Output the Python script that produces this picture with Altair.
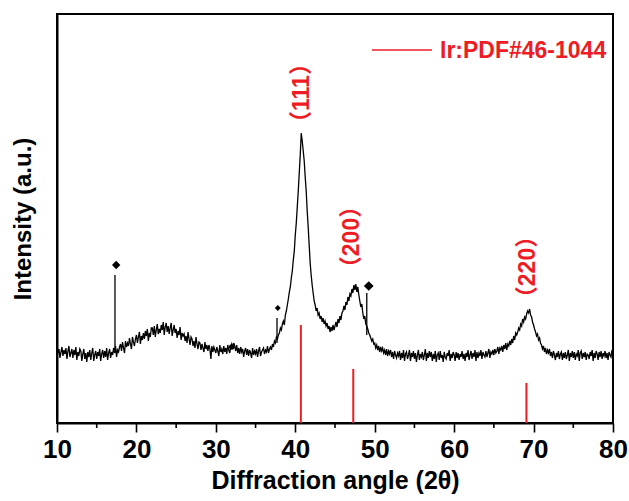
import altair as alt
import pandas as pd

# ---------------- data ----------------
START, STEP = 10.0, 0.125
# intensity (arbitrary units), 8 samples per degree from 10.000 to 80.000
intensity = [
    78, 70, 74, 65, 71, 76, 67, 73,   # 10
    69, 75, 64, 72, 77, 66, 70, 74,   # 11
    65, 73, 68, 76, 63, 71, 67, 74,   # 12
    72, 62, 69, 74, 64, 70, 61, 71,   # 13
    66, 73, 63, 70, 75, 62, 68, 72,   # 14
    64, 71, 67, 74, 62, 69, 73, 65,   # 15
    72, 66, 75, 63, 70, 74, 65, 71,   # 16
    68, 75, 70, 77, 66, 73, 71, 76,   # 17
    79, 72, 81, 75, 70, 82, 76, 80,   # 18
    77, 85, 79, 74, 86, 81, 77, 84,   # 19
    88, 80, 86, 91, 79, 87, 83, 90,   # 20
    84, 92, 87, 94, 82, 90, 86, 95,   # 21
    95, 88, 97, 86, 93, 99, 89, 94,   # 22
    90, 98, 93, 101, 88, 96, 100, 91,  # 23
    97, 89, 95, 100, 87, 93, 98, 90,  # 24
    94, 85, 92, 88, 96, 83, 90, 87,   # 25
    89, 82, 87, 80, 91, 84, 78, 86,   # 26
    84, 77, 82, 75, 86, 79, 74, 81,   # 27
    80, 73, 79, 75, 71, 81, 74, 78,   # 28
    72, 78, 74, 64, 77, 71, 76, 73,   # 29
    70, 76, 72, 67, 78, 71, 74, 69,   # 30
    77, 71, 75, 69, 78, 73, 70, 76,   # 31
    79, 74, 80, 77, 72, 78, 70, 75,   # 32
    69, 76, 71, 74, 66, 72, 75, 68,   # 33
    74, 67, 73, 70, 65, 75, 68, 72,   # 34
    69, 74, 66, 72, 76, 67, 71, 73,   # 35
    75, 69, 73, 71, 77, 70, 74, 76,   # 36
    73, 79, 76, 82, 80, 86, 84, 88,   # 37
    90, 95, 93, 99, 102, 98, 108, 112,   # 38
    118, 124, 131, 136, 145, 152, 163, 172,  # 39
    188, 200, 216, 232, 250, 268, 290, 282,  # 40
    272, 262, 246, 232, 212, 196, 178, 160,  # 41
    148, 138, 130, 122, 118, 112, 115, 108,  # 42
    110, 104, 107, 101, 105, 99, 102, 97,    # 43
    100, 94, 97, 91, 96, 92, 98, 93,         # 44
    97, 101, 96, 104, 100, 107, 103, 110,    # 45
    112, 117, 113, 121, 118, 126, 122, 129,  # 46
    127, 134, 130, 138, 133, 139, 131, 136,  # 47
    128, 122, 116, 119, 110, 104, 107, 99,   # 48
    97, 94, 90, 88, 85, 82, 84, 79,   # 49
    80, 75, 78, 73, 77, 71, 76, 72,   # 50
    75, 70, 73, 68, 74, 67, 72, 69,   # 51
    73, 66, 71, 64, 72, 68, 65, 70,   # 52
    67, 72, 63, 70, 65, 73, 62, 69,   # 53
    71, 64, 68, 73, 62, 70, 66, 72,   # 54
    64, 70, 61, 68, 73, 63, 69, 66,   # 55
    71, 63, 68, 74, 62, 70, 65, 72,   # 56
    66, 71, 62, 69, 64, 72, 61, 68,   # 57
    70, 63, 72, 65, 68, 61, 71, 66,   # 58
    64, 70, 67, 73, 62, 69, 65, 71,   # 59
    68, 62, 71, 65, 70, 63, 69, 66,   # 60
    72, 64, 69, 62, 70, 66, 73, 63,   # 61
    68, 72, 64, 70, 66, 73, 62, 71,   # 62
    65, 70, 67, 73, 64, 71, 68, 66,   # 63
    72, 66, 70, 74, 65, 71, 69, 73,   # 64
    68, 74, 70, 72, 76, 69, 75, 73,   # 65
    77, 71, 78, 74, 80, 73, 79, 77,   # 66
    82, 78, 84, 80, 87, 83, 90, 88,   # 67
    91, 95, 93, 99, 97, 104, 101, 106,   # 68
    104, 109, 112, 110, 114, 108, 106, 101,  # 69
    98, 94, 91, 87, 89, 83, 85, 80,   # 70
    78, 74, 77, 71, 75, 69, 73, 70,   # 71
    74, 67, 71, 65, 72, 68, 63, 70,   # 72
    66, 72, 64, 69, 71, 63, 70, 65,   # 73
    71, 64, 68, 73, 62, 70, 66, 72,   # 74
    65, 71, 63, 69, 67, 73, 62, 70,   # 75
    72, 64, 70, 66, 71, 63, 69, 68,   # 76
    64, 71, 67, 73, 62, 70, 65, 72,   # 77
    69, 63, 71, 66, 72, 64, 70, 67,   # 78
    72, 65, 70, 63, 71, 68, 66, 73,   # 79
    68,                               # 80
]
angles = [START + STEP * i for i in range(len(intensity))]

# narrow impurity reflections
spike_angle = [17.3, 37.7, 49.0]
spike_base = [70, 80, 88]
spike_top = [148, 105, 130]

# diamond markers for impurity reflections
marker_angle = [17.45, 37.8, 49.25]
marker_int = [158, 115, 137]
marker_size = [70, 35, 95]

# small blob on baseline
blob_angle = [32.0]
blob_int = [76]

# Ir reference pattern PDF#46-1044
ref_angle = [40.7, 47.3, 69.1]
ref_int = [98, 54, 40]

# Miller index labels
hkl_text = ["（111）", "（200）", "（220）"]
hkl_angle = [40.8, 47.1, 69.35]
hkl_int = [330, 186, 156]

major_ticks = [10, 20, 30, 40, 50, 60, 70, 80]
minor_ticks = [15, 25, 35, 45, 55, 65, 75]

RED = "#ee1c24"
FONT = "Liberation Sans, Arial, Noto Sans CJK SC"

# ---------------- chart ----------------
xscale = alt.Scale(domain=[10, 80], nice=False, zero=False)
yscale = alt.Scale(domain=[0, 409], nice=False, zero=False)

df = pd.DataFrame({"angle": angles, "intensity": intensity})

xaxis = alt.Axis(
    values=major_ticks, title="Diffraction angle (2θ)", grid=False,
    tickSize=9, tickWidth=1.6, tickColor="black",
    domainColor="black", domainWidth=2,
    labelFont=FONT, labelFontSize=26, labelFontWeight="bold", labelColor="black",
    labelPadding=4, labelFlush=False,
    titleFont=FONT, titleFontSize=25, titleFontWeight="bold", titleColor="black",
    titlePadding=6,
)
yaxis = alt.Axis(
    title="Intensity (a.u.)", labels=False, ticks=False, grid=False,
    domainColor="black", domainWidth=2,
    titleFont=FONT, titleFontSize=24, titleFontWeight="bold", titleColor="black",
    titlePadding=22,
)

line = alt.Chart(df).mark_line(color="black", strokeWidth=1.3).encode(
    x=alt.X("angle:Q", scale=xscale, axis=xaxis),
    y=alt.Y("intensity:Q", scale=yscale, axis=yaxis),
)

spikes = alt.Chart(pd.DataFrame({"a": spike_angle, "b": spike_base, "t": spike_top})).mark_rule(
    color="black", strokeWidth=1.3
).encode(x=alt.X("a:Q", scale=xscale), y=alt.Y("b:Q", scale=yscale), y2="t:Q")

markers = alt.Chart(pd.DataFrame({"a": marker_angle, "v": marker_int, "s": marker_size})).mark_point(
    shape="diamond", filled=True, color="black", opacity=1
).encode(
    x=alt.X("a:Q", scale=xscale), y=alt.Y("v:Q", scale=yscale),
    size=alt.Size("s:Q", scale=None, legend=None),
)

blob = alt.Chart(pd.DataFrame({"a": blob_angle, "v": blob_int})).mark_point(
    shape="circle", filled=True, color="black", opacity=1, size=30
).encode(x=alt.X("a:Q", scale=xscale), y=alt.Y("v:Q", scale=yscale))

refs = alt.Chart(pd.DataFrame({"a": ref_angle, "v": ref_int, "z": [0] * len(ref_angle)})).mark_rule(
    color=RED, strokeWidth=2
).encode(x=alt.X("a:Q", scale=xscale), y=alt.Y("z:Q", scale=yscale), y2="v:Q")

labels = alt.Chart(pd.DataFrame({"a": hkl_angle, "v": hkl_int, "t": hkl_text})).mark_text(
    angle=270, color=RED, font=FONT, fontSize=23, fontWeight="bold",
    align="center", baseline="middle",
).encode(x=alt.X("a:Q", scale=xscale), y=alt.Y("v:Q", scale=yscale), text="t:N")

minor = alt.Chart(pd.DataFrame({"m": minor_ticks})).mark_rule(color="black", strokeWidth=1.6).encode(
    x=alt.X("m:Q", scale=xscale), y=alt.value(409), y2=alt.value(414)
)

legend_df = pd.DataFrame({"label": ["Ir:PDF#46-1044"]})
legend_line = alt.Chart(legend_df).mark_rule(color=RED, strokeWidth=1.5).encode(
    x=alt.value(315), x2=alt.value(375), y=alt.value(36)
)
legend_text = alt.Chart(legend_df).mark_text(
    color=RED, font=FONT, fontSize=23, fontWeight="bold", align="left", baseline="middle"
).encode(x=alt.value(383), y=alt.value(37), text="label:N")

chart = alt.layer(
    refs, line, spikes, markers, blob, labels, minor, legend_line, legend_text
).properties(
    width=556, height=409,
    autosize=alt.AutoSizeParams(type="none"),
    padding={"left": 57, "top": 14, "right": 16, "bottom": 78},
    background="white",
).configure_view(stroke="black", strokeWidth=2)

chart.save("out.html", embed_options={"renderer": "svg", "actions": False})
